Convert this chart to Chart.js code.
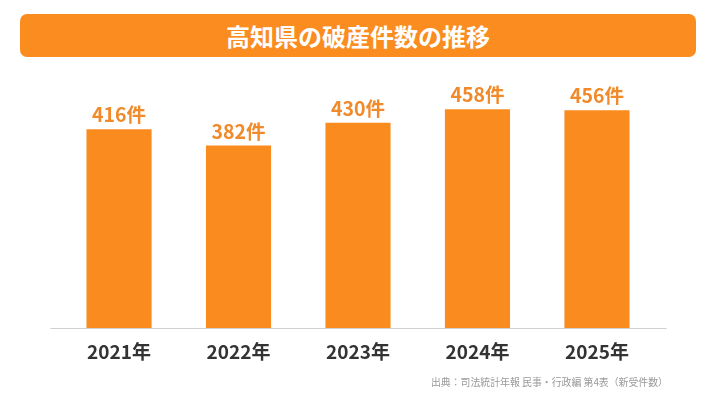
<!DOCTYPE html>
<html lang="ja">
<head>
<meta charset="utf-8">
<script src="https://cdn.jsdelivr.net/npm/chart.js@4.4.1/dist/chart.umd.min.js"></script>
<style>
  html, body { margin: 0; padding: 0; background: #ffffff; }
  #wrap { position: relative; width: 716px; height: 403px; overflow: hidden; font-family: "Noto Sans CJK JP", "Noto Sans", sans-serif; }
  #banner { position: absolute; left: 20px; top: 14px; width: 676px; height: 43px; background: #FB8C1F; border-radius: 7px;
            color: #ffffff; font-weight: 700; font-size: 24px; line-height: 43px; text-align: center; }
  #source { position: absolute; right: 48px; top: 375px; color: #9a9a9a; font-size: 9.9px; line-height: 14px; white-space: nowrap; }
  canvas { position: absolute; left: 0; top: 0; }
</style>
</head>
<body>
<div id="wrap">
  <canvas id="c" width="716" height="403"></canvas>
  <div id="banner">高知県の破産件数の推移</div>
  <div id="source">出典：司法統計年報 民事・行政編 第4表（新受件数）</div>
</div>
<script>
const categories = ["2021年", "2022年", "2023年", "2024年", "2025年"];
const values = [416, 382, 430, 458, 456];
const valueSuffix = "件";

const FONT = '"Noto Sans CJK JP", "Noto Sans", sans-serif';

const baselinePlugin = {
  id: 'baseline',
  beforeDatasetsDraw(chart) {
    const { ctx, chartArea } = chart;
    ctx.save();
    ctx.strokeStyle = '#d0d0d0';
    ctx.lineWidth = 1;
    ctx.beginPath();
    ctx.moveTo(chartArea.left - 9, chartArea.bottom + 0.5);
    ctx.lineTo(chartArea.right + 10, chartArea.bottom + 0.5);
    ctx.stroke();
    ctx.restore();
  }
};

const valueLabelPlugin = {
  id: 'valueLabels',
  afterDatasetsDraw(chart) {
    const { ctx } = chart;
    const meta = chart.getDatasetMeta(0);
    ctx.save();
    ctx.fillStyle = '#F08A2A';
    ctx.font = '700 19.5px ' + FONT;
    ctx.textAlign = 'center';
    ctx.textBaseline = 'alphabetic';
    meta.data.forEach((bar, i) => {
      ctx.fillText(values[i] + valueSuffix, bar.x, bar.y - 7);
    });
    ctx.restore();
  }
};

new Chart(document.getElementById('c'), {
  type: 'bar',
  data: {
    labels: categories,
    datasets: [{
      data: values,
      backgroundColor: '#F98B1F',
      borderWidth: 0,
      barPercentage: 0.545,
      categoryPercentage: 1.0
    }]
  },
  options: {
    responsive: false,
    animation: false,
    events: [],
    layout: { padding: { left: 59.3, right: 59.3, top: 89.2, bottom: 28.2 } },
    plugins: { legend: { display: false }, tooltip: { enabled: false }, title: { display: false } },
    scales: {
      x: {
        grid: { display: false, drawTicks: false },
        border: { display: false },
        ticks: { color: '#333333', padding: 12, font: { family: FONT, size: 19, weight: '700', lineHeight: 1.2 } }
      },
      y: { display: false, min: 0, max: 500 }
    }
  },
  plugins: [baselinePlugin, valueLabelPlugin]
});
</script>
</body>
</html>
